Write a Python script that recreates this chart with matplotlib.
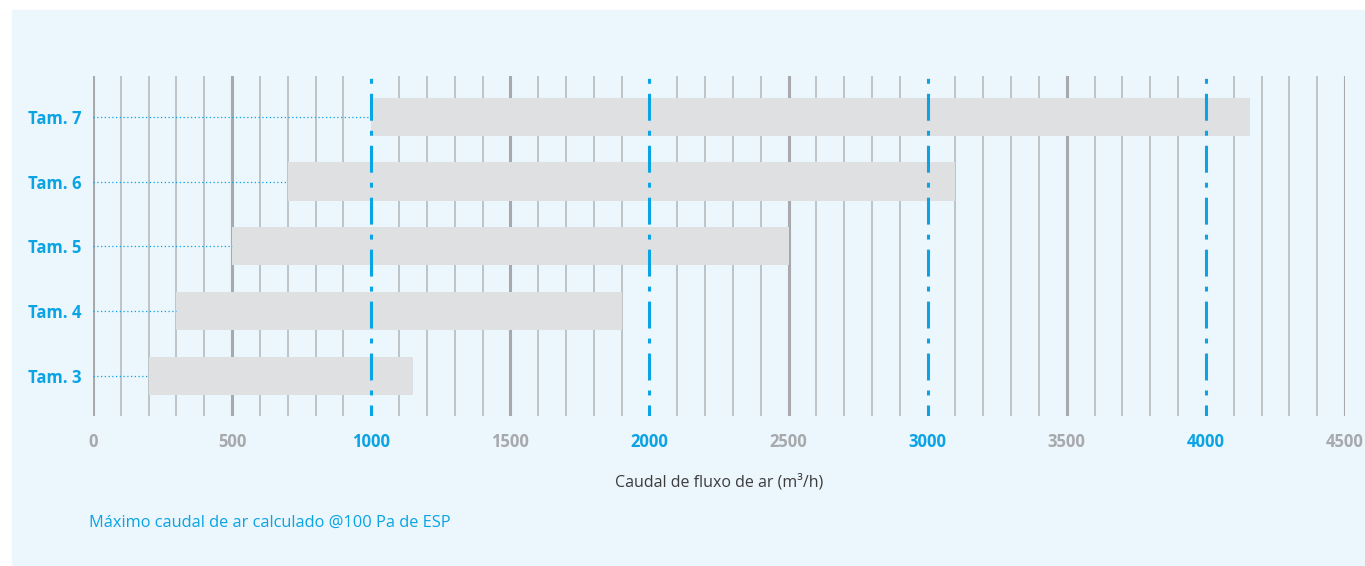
import matplotlib.pyplot as plt
from matplotlib.patches import Rectangle

# airflow ranges per unit size (m3/h)
sizes = ["Tam. 3", "Tam. 4", "Tam. 5", "Tam. 6", "Tam. 7"]
flow_min = [200, 300, 500, 700, 1000]
flow_max = [1150, 1900, 2500, 3100, 4160]
ticks = [0, 500, 1000, 1500, 2000, 2500, 3000, 3500, 4000, 4500]
highlight = [1000, 2000, 3000, 4000]

BLUE = "#0AA3E4"
GREY_TXT = "#A7A9AC"
BAR = "#DFE0E2"
PANEL = "#EBF6FD"

plt.rcParams['font.family'] = ['Open Sans', 'DejaVu Sans']

fig = plt.figure(figsize=(13.65, 5.66), dpi=100)
# light blue panel behind everything (white margin top and left)
fig.patches.append(Rectangle((12 / 1365, 0), 1, 1 - 10 / 566,
                             transform=fig.transFigure, color=PANEL, zorder=-10))

ax = fig.add_axes([93 / 1365, 1 - 416 / 566, 1252 / 1365, 340 / 566])
ax.set_facecolor("none")
ax.set_xlim(0, 4500)
ax.set_ylim(-0.62, 4.63)

# grid: thin every 100, thicker every 500
for x in range(0, 4501, 100):
    if x in highlight:
        continue
    if x % 500 == 0:
        ax.axvline(x, color="#A7A9AC", lw=2.2, zorder=1)
    else:
        ax.axvline(x, color="#B7BABD", lw=1.2, zorder=1)

y = list(range(len(sizes)))
ax.barh(y, [b - a for a, b in zip(flow_min, flow_max)], left=flow_min,
        height=0.59, color=BAR, zorder=2)

# dotted leaders from axis to bar start
for yi, a in zip(y, flow_min):
    ax.plot([0, a], [yi, yi], color=BLUE, lw=0.9, ls=(0, (1, 2)), zorder=3)

# dash-dot reference lines, phase matched so a dot sits at the top
for x in highlight:
    ax.axvline(x, color=BLUE, lw=2.2, ls=(5.2, (8.8, 3.3, 1.6, 3.3)), zorder=4)

ax.set_yticks(y)
ax.set_yticklabels(sizes, color=BLUE, fontweight="bold", fontsize=12)
ax.set_xticks(ticks)
ax.set_xticklabels([str(t) for t in ticks], fontweight="bold", fontsize=12)
for lbl, t in zip(ax.get_xticklabels(), ticks):
    lbl.set_color(BLUE if t in highlight else GREY_TXT)
ax.tick_params(length=0, pad=12)
ax.tick_params(axis="y", pad=8.5)
for s in ax.spines.values():
    s.set_visible(False)

ax.set_xlabel("Caudal de fluxo de ar (m³/h)", fontsize=11.5, color="#3C3C3C", labelpad=17)

fig.text(89 / 1365, 1 - 523 / 566, "Máximo caudal de ar calculado @100 Pa de ESP",
         color=BLUE, fontsize=11.8, va="center", ha="left")

fig.savefig("out.png", dpi=100)
